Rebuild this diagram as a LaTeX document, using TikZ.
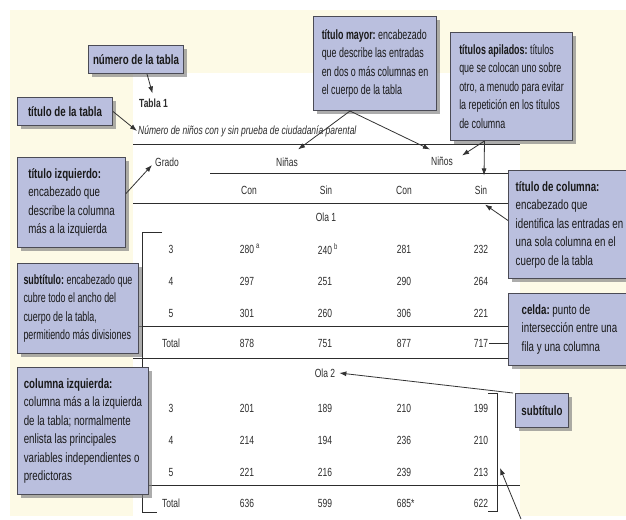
\documentclass[tikz,border=0pt]{standalone}
\usepackage{fontspec}
\setmainfont{Liberation Sans}
\newfontfamily\boxfont{Liberation Sans}[FakeStretch=0.72]
\newfontfamily\narrowfont{Liberation Sans}[FakeStretch=0.66]
\newfontfamily\tabfont{Liberation Sans}[FakeStretch=0.72]
\usetikzlibrary{arrows.meta,shadows}

\definecolor{cream}{RGB}{253,250,230}
\definecolor{notefill}{RGB}{186,191,222}
\definecolor{noteline}{RGB}{75,75,85}
\definecolor{ink}{RGB}{45,45,45}

\tikzset{
  note/.style={draw=noteline, line width=1pt, fill=notefill, anchor=north west,
    inner xsep=4pt, inner ysep=0pt, align=left, text=black!90,
    font=\boxfont\fontsize{13.5}{18.5}\selectfont\frenchspacing,
    drop shadow={shadow xshift=3pt, shadow yshift=-3.5pt, opacity=0.65}},
  narrow/.style={font=\narrowfont\fontsize{13.5}{18.5}\selectfont\frenchspacing},
  single/.style={align=center, inner xsep=2pt},
  tab/.style={font=\tabfont\fontsize{11.8}{13}\selectfont, text=ink, inner sep=1pt},
  rule/.style={draw=ink, line width=0.9pt},
  pointer/.style={draw=black!80, line width=0.8pt, -{Latex[length=7pt,width=5pt]}},
}

\begin{document}
\begin{tikzpicture}[x=1pt,y=-1pt]
\useasboundingbox (0,0) rectangle (626,519);
% fondo
\fill[cream] (10,10) rectangle (626,516);
\fill[white] (133,73) rectangle (520,519);

% encabezados de la tabla
\node[tab, anchor=west] (tabla) at (138,103) {\bfseries Tabla 1};
\node[tab, anchor=west] (titulo) at (137,131) {\itshape N\'umero de ni\~nos con y sin prueba de ciudadan\'ia parental};
\node[tab] (grado) at (167,162) {Grado};
\node[tab] (ninas) at (287,162) {Ni\~nas};
\node[tab] (ninos) at (442,161) {Ni\~nos};
\node[tab] (con1) at (249,190) {Con};
\node[tab] (sin1) at (326,190) {Sin};
\node[tab] (con2) at (404,190) {Con};
\node[tab] (sin2) at (481,190) {Sin};
\node[tab] (ola1) at (326,217) {Ola 1};
\node[tab] (ola2) at (325,373) {Ola 2};

% filas
\foreach \y/\g/\a/\b/\c/\d [count=\i] in {
  249/3/{280\rlap{\,\textsuperscript{a}}}/{240\rlap{\,\textsuperscript{b}}}/281/232,
  281/4/297/251/290/264,
  313/5/301/260/306/221,
  343/Total/878/751/877/717,
  408/3/201/189/210/199,
  440/4/214/194/236/210,
  472/5/221/216/239/213,
  503/Total/636/599/{685\rlap{*}}/622}
{
  \node[tab] (g\i) at (171,\y) {\g};
  \node[tab] (a\i) at (247,\y) {\a};
  \node[tab] (b\i) at (325,\y) {\b};
  \node[tab] (c\i) at (404,\y) {\c};
  \node[tab] (d\i) at (481,\y) {\d};
}

% lineas
\draw[rule] (133,144) -- (520,144);
\draw[rule] (210,173) -- (520,173);
\draw[rule] (133,203) -- (520,203);
\draw[rule] (133,326) -- (520,326);
\draw[rule] (133,358) -- (520,358);
\draw[rule] (133,485) -- (520,485);
\draw[rule, line width=0.8pt] (162,232) -- (142,232) -- (142,512) -- (157,512);
\draw[rule, line width=0.8pt] (488,393) -- (497,393) -- (497,511) -- (488,511);

% notas
\node[note, single, minimum width=95pt, minimum height=28pt] (numtab) at (88,45) {\bfseries n\'umero de la tabla};
\node[note, single, minimum width=95pt, minimum height=28pt] (tittab) at (17,97) {\bfseries t\'itulo de la tabla};
\node[note, narrow, minimum width=123pt, minimum height=94pt] (titmayor) at (313,16)
  {\textbf{t\'itulo mayor:} encabezado\\que describe las entradas\\en dos o m\'as columnas en\\el cuerpo de la tabla};
\node[note, narrow, minimum width=122pt, minimum height=108pt] (titapil) at (450,32)
  {\textbf{t\'itulos apilados:} t\'itulos\\que se colocan uno sobre\\otro, a menudo para evitar\\la repetici\'on en los t\'itulos\\de columna};
\node[note, minimum width=122pt, minimum height=108pt] (titcol) at (508,170)
  {\textbf{t\'itulo de columna:}\\encabezado que\\identifica las entradas en\\una sola columna en el\\cuerpo de la tabla};
\node[note, minimum width=122pt, minimum height=72pt] (celda) at (508,293)
  {\textbf{celda:} punto de\\intersecci\'on entre una\\fila y una columna\hspace{8pt}};
\node[note, single, minimum width=53pt, minimum height=34pt] (subt2) at (515,393) {\bfseries subt\'itulo};
\node[note, minimum width=108pt, minimum height=90pt] (titizq) at (17,157)
  {\textbf{t\'itulo izquierdo:}\\encabezado que\\describe la columna\\m\'as a la izquierda\hspace{10pt}};
\node[note, narrow, minimum width=121pt, minimum height=90pt] (subt1) at (17,263)
  {\textbf{subt\'itulo:} encabezado que\\cubre todo el ancho del\\cuerpo de la tabla,\\permitiendo m\'as divisiones};
\node[note, minimum width=131pt, minimum height=127pt] (colizq) at (17,367)
  {\textbf{columna izquierda:}\\columna m\'as a la izquierda\\de la tabla; normalmente\\enlista las principales\\variables independientes o\\predictoras};

% flechas
\draw[pointer] ([xshift=11pt]numtab.south) -- ([xshift=-1pt,yshift=4pt]tabla.north);
\draw[pointer] (tittab.east) -- (titulo.west);
\draw[pointer] ([xshift=-25pt]titmayor.south) -- ([xshift=-1pt,yshift=7pt]ninas.north east);
\draw[pointer] ([xshift=-25pt]titmayor.south) -- ([yshift=6pt]ninos.north west);
\draw[pointer] ([xshift=-27pt]titapil.south) -- ([xshift=8pt]ninos.north east);
\draw[pointer] ([xshift=-27pt]titapil.south) -- ([xshift=3pt,yshift=9pt]sin2.north);
\draw[pointer] ([yshift=4pt]titcol.west) -- ([xshift=4pt,yshift=-9pt]sin2.south);
\draw[pointer] ([yshift=9pt]titizq.east) -- ([xshift=-2pt,yshift=-3pt]grado.west);
\draw[pointer] ([xshift=-2pt]subt2.north west) -- ([xshift=3pt]ola2.east);
\draw[ink, line width=0.8pt] (d4.east) -- (d4.east -| celda.west);
\coordinate (pie) at (521,519);
\coordinate (rbrack) at (500,468);
\draw[pointer] (pie) -- (rbrack);
\end{tikzpicture}
\end{document}
